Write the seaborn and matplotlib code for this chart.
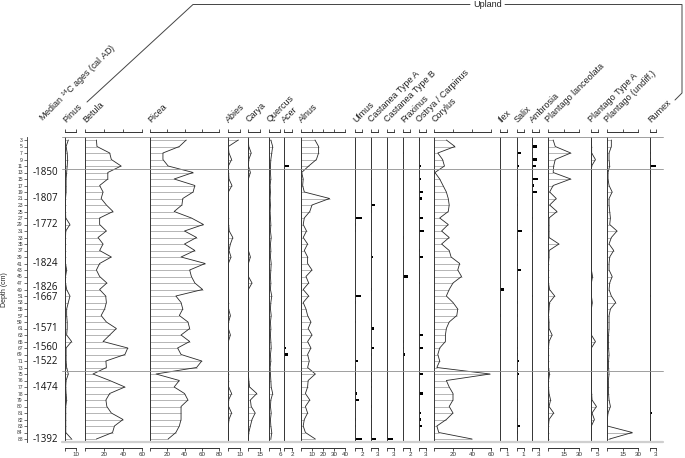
import numpy as np
import matplotlib
matplotlib.use('Agg')
import matplotlib.pyplot as plt
from matplotlib.lines import Line2D
import seaborn as sns

sns.set_theme(style='white')
plt.rcParams['font.family'] = ['Liberation Sans', 'DejaVu Sans']
plt.rcParams['mathtext.default'] = 'regular'

# ------------------------------------------------------------
# data
# ------------------------------------------------------------
DEPTHS = [3, 5, 7, 9, 11, 13, 15, 17, 19, 21, 23, 25, 27, 29, 31, 33, 35, 37, 39, 41,
          43, 45, 47, 49, 51, 53, 55, 57, 59, 61, 63, 65, 67, 69, 71, 73, 75,
          76, 77, 78, 79, 80, 81, 82, 83, 84, 88]

AGE_DEPTHS = [13, 21, 29, 41, 49, 51, 61, 67, 71, 77, 88]
AGES = ['-1850', '-1807', '-1772', '-1824', '-1826', '-1667', '-1571', '-1560',
        '-1522', '-1474', '-1392']

PINUS = [3, 1, 2, 2.4, 2, 1.5, 1, 1, 1, 0.5, 0.5, 0.5, 0.7, 4.5, 0.7, 0.5, 0.5, 0.5, 0.5, 0.5,
         1.5, 0.5, 0.5, 1.5, 4.5, 3, 1.5, 1.5, 2, 2, 1.5, 6, 1, 1, 1, 1.5, 3,
         1, 0.7, 1, 1.5, 0.7, 0.7, 0.7, 0.7, 0.7, 6]
BETULA = [12, 12.6, 26, 27.7, 38, 24, 24, 15.4, 19, 17, 22.5, 29.5, 15.4, 15.4, 22.5, 13.7, 19, 15.4, 27.7, 15.4,
          12, 15.4, 23, 15.4, 21.8, 22.5, 20.7, 17, 22.5, 33, 26, 19, 45, 42, 22, 22.5, 8.4,
          26, 42, 26, 22, 23, 27.7, 40, 31, 29, 12]
PICEA = [42, 34, 15, 15, 21, 50, 28, 52, 50, 38, 37, 28, 48, 62, 40, 54, 40, 52, 36, 64,
         46, 48, 52, 61, 30, 36, 38, 34, 44, 46, 36, 46, 32, 36, 60, 54, 7,
         34, 28, 40, 44, 36, 36, 36, 34, 30, 21]
ABIES = [8.6, 0.3, 0.8, 3, 0.3, 0.5, 0.8, 3.3, 0.3, 0.3, 0.3, 0.3, 0.5, 0.5, 1, 4, 2, 0.8, 2.5, 0.3,
         0.3, 0.3, 0.3, 0.3, 0.3, 0.5, 0.5, 2, 0.5, 0.3, 2, 0.3, 0.3, 0.3, 0.3, 0.3, 0.5,
         0.5, 0.5, 3, 0.5, 0.5, 3, 0.8, 0.3, 0.3, 0.3]
CARYA = [0.3, 1, 4, 1, 0.5, 3, 0.5, 0.5, 0.5, 0.3, 0.3, 0.3, 0.3, 0.3, 0.3, 0.5, 0.5, 0.5, 3, 0.5,
         0.5, 0.5, 5, 0.5, 0.3, 0.3, 0.3, 0.3, 0.3, 0.3, 0.3, 0.3, 0.3, 0.3, 0.3, 0.5, 0.5,
         1, 2, 11, 3, 4, 9, 5, 3, 1, 0.5]
QUERCUS = [1, 2, 1.5, 1, 0.8, 0.8, 1, 0.6, 0.8, 0.6, 0.8, 0.6, 0.8, 1, 0.8, 1.2, 0.8, 1, 0.8, 1.2,
           1, 0.8, 1, 0.8, 1.5, 1, 0.8, 1.2, 0.8, 1, 0.8, 1, 1.2, 0.8, 1, 0.6, 0.8,
           1, 1.2, 2, 1, 0.8, 1.2, 0.8, 1, 1.5, 1]
ALNUS = [12.7, 16, 16, 14, 7, 0.6, 2, 1.5, 3, 26, 10, 8, 3, 2, 5, 2, 6, 3, 6, 6,
         10, 4.5, 7, 2, 7, 2, 4.5, 6, 9, 6.5, 10, 6, 9, 6, 7.5, 6, 13,
         6.5, 6, 4, 8, 4, 6, 3, 2, 4, 13]
CORYLUS = [13, 22, 4, 9, 11, 1, 6, 9.5, 13, 15, 16, 15, 6, 15, 8, 16, 8, 16, 18, 27,
           25, 29, 20, 16, 13, 20, 25, 24, 16, 13, 12, 12, 6, 4, 6, 3, 59,
           13, 16, 20, 20, 16, 20, 13, 3, 5, 40]
P_LANCEOLATA = [5, 7, 22, 7, 5.5, 5, 22, 5, 1.6, 8, 1.6, 8.7, 1, 1, 1, 1, 10.6, 1, 1, 0.5,
                0.5, 0.5, 0.5, 1.5, 6.5, 1.5, 1, 0.5, 1, 1, 4, 1, 0.5, 0.5, 0.5, 0.5, 1.5,
                0.5, 0.5, 1, 2.5, 1, 5.5, 1, 0.5, 0.5, 0.5]
P_TYPE_A = [0.3, 0.5, 0.5, 3.4, 0.5, 0.3, 0.3, 0.3, 0.3, 0.3, 0.3, 0.3, 0.3, 0.3, 0.3, 0.3, 0.3, 0.3, 0.3, 0.3,
            0.3, 1.2, 0.3, 0.3, 0.3, 1, 0.3, 0.3, 0.3, 0.3, 0.3, 3.4, 0.3, 0.3, 0.3, 0.3, 0.3,
            0.3, 0.3, 0.5, 0.8, 4.2, 0.8, 2.6, 0.3, 0.3, 0.3]
P_UNDIFF = [4.2, 4.2, 2, 2, 2.6, 1, 1, 2, 5, 2, 2, 2.6, 3.3, 2.6, 9.7, 4.2, 2, 6.5, 2.6, 2,
            2, 5, 2.6, 2, 4.2, 8.4, 3.3, 2, 2, 2, 1.5, 1.5, 1.5, 2, 1.5, 1.5, 2,
            1.3, 1.5, 1.5, 2, 3.3, 1, 0.3, 0.3, 24.5, 2.5]

# rare taxa: depth (cm) -> %
ACER = {11: 1.3, 67: 0.4, 69: 0.9}
ULMUS = {27: 2.0, 29: 0.4, 31: 0.4, 51: 1.8, 53: 0.4, 59: 0.4, 71: 0.8, 73: 0.4, 75: 0.4,
         78: 0.7, 79: 1.0, 82: 0.4, 83: 0.4, 88: 2.0}
CASTANEA_A = {15: 0.5, 23: 1.6, 25: 0.5, 31: 0.5, 39: 1.0, 49: 0.5, 61: 1.3, 65: 0.5, 67: 1.3,
              69: 0.5, 75: 0.5, 76: 0.5, 77: 0.5, 80: 0.5, 88: 2.3}
CASTANEA_B = {88: 2.7}
FRAXINUS = {7: 0.4, 33: 0.4, 45: 1.3, 65: 0.4, 67: 0.4, 69: 0.6, 75: 0.4}
OSTRYA = {3: 0.5, 7: 0.5, 11: 1.0, 13: 0.5, 15: 0.8, 19: 1.6, 21: 1.4, 27: 1.6, 31: 2.0, 37: 0.5,
          39: 1.8, 47: 0.5, 63: 1.5, 67: 1.5, 75: 1.8, 78: 1.5, 81: 1.0, 82: 1.0, 83: 1.2}
ILEX = {49: 0.6, 57: 0.2, 63: 0.2}
SALIX = {7: 0.6, 11: 0.4, 21: 0.2, 23: 0.2, 31: 0.75, 33: 0.2, 43: 0.6, 53: 0.2, 57: 0.2, 61: 0.2,
         67: 0.2, 69: 0.2, 71: 0.4, 75: 0.4, 79: 0.2, 82: 0.2, 83: 0.5, 84: 0.2}
AMBROSIA = {3: 0.5, 5: 2.3, 7: 0.5, 9: 2.0, 11: 1.6, 15: 2.7, 17: 1.0, 19: 2.0, 21: 0.5,
            27: 0.5, 31: 0.5, 51: 0.5}
RUMEX = {7: 0.5, 9: 0.5, 11: 3.0, 13: 0.5, 51: 0.5, 81: 1.2, 88: 0.5}

TAXA = ['Pinus', 'Betula', 'Picea', 'Abies', 'Carya', 'Quercus', 'Acer', 'Alnus',
        'Ulmus', 'Castanea Type A', 'Castanea Type B', 'Fraxinus', 'Ostrya / Carpinus',
        'Corylus', 'Ilex', 'Salix', 'Ambrosia', 'Plantago lanceolata',
        'Plantago Type A', 'Plantago (undiff.)', 'Rumex']
SERIES = [PINUS, BETULA, PICEA, ABIES, CARYA, QUERCUS, ACER, ALNUS, ULMUS, CASTANEA_A,
          CASTANEA_B, FRAXINUS, OSTRYA, CORYLUS, ILEX, SALIX, AMBROSIA, P_LANCEOLATA,
          P_TYPE_A, P_UNDIFF, RUMEX]

# ------------------------------------------------------------
# layout (pixels of the 685x458 picture)
# ------------------------------------------------------------
W, H = 685, 458
Y_TOP, Y_BOT = 136.75, 442.25
# left, width, x max, ticks
LAYOUT = [
    (65, 11, 10, [0, 10]),
    (85, 57, 60, [0, 20, 40, 60]),
    (150, 69, 80, [0, 20, 40, 60, 80]),
    (228, 12, 10, [0, 10]),
    (248, 12, 15, [0, 15]),
    (269, 11, 6, [0, 6]),
    (284, 8, 2, [0, 2]),
    (301, 44, 40, [0, 10, 20, 30, 40]),
    (355, 7, 2, [0, 2]),
    (371, 7, 3, [0, 3]),
    (387, 7, 3, [0, 3]),
    (403, 7, 2, [0, 2]),
    (419, 7, 3, [0, 3]),
    (434, 57, 60, [0, 20, 40, 60]),
    (500, 7, 1, [0, 1]),
    (516.5, 7, 1, [0, 1]),
    (532, 7, 3, [0, 3]),
    (548, 31, 30, [0, 15, 30]),
    (591, 6.5, 5, [0, 5]),
    (607, 31, 30, [0, 15, 30]),
    (650, 6, 3, [0, 3]),
]

pos = np.arange(len(DEPTHS))
fig = plt.figure(figsize=(W / 100, H / 100), dpi=100)
fig.patch.set_facecolor('white')


def fx(px):
    return px / W


def fy(py):
    return 1 - py / H


def fig_line(xs, ys, **kw):
    fig.add_artist(Line2D([fx(x) for x in xs], [fy(y) for y in ys],
                          transform=fig.transFigure, **kw))


ax_h = (Y_BOT - Y_TOP) / H
for name, vals, (left, width, xmax, ticks) in zip(TAXA, SERIES, LAYOUT):
    ax = fig.add_axes([fx(left), fy(Y_BOT), width / W, ax_h])
    ax.patch.set_visible(False)
    if isinstance(vals, dict):
        v = np.array([vals.get(d, 0) for d in DEPTHS], float)
        m = v > 0
        ax.barh(pos[m], v[m], height=0.42, color='black', lw=0)
    else:
        v = np.asarray(vals, float)
        ax.hlines(pos, 0, v, color='#8c8c8c', lw=0.45)
        sns.lineplot(x=v, y=pos, orient='y', sort=False, estimator=None,
                     color='#2a2a2a', lw=0.6, ax=ax)
    ax.set_xlim(0, xmax)
    ax.set_ylim(len(DEPTHS) - 0.5, -0.5)
    ax.set_xlabel('')
    ax.set_ylabel('')
    ax.set_yticks([])
    ax.set_xticks(ticks)
    ax.set_xticklabels(['' if t == 0 else str(t) for t in ticks])
    ax.tick_params(axis='x', top=True, bottom=True, labeltop=False, labelbottom=True,
                   direction='out', length=2, width=0.6, labelsize=4.5, pad=1,
                   colors='#333333')
    ax.spines['right'].set_visible(False)
    ax.spines['top'].set_position(('outward', 3.6))
    ax.spines['bottom'].set_position(('outward', 4.2))
    for s in ['left', 'top', 'bottom']:
        ax.spines[s].set_color('#333333')
        ax.spines[s].set_linewidth(0.7)
    fig.text(fx(left + 1), fy(123), name, rotation=45, rotation_mode='anchor',
             ha='left', va='baseline', fontsize=6.5, color='#222222')

# depth axis with the radiocarbon ages
ax_d = fig.add_axes([fx(27), fy(Y_BOT), 33 / W, ax_h])
ax_d.patch.set_visible(False)
ax_d.set_xlim(0, 33)
ax_d.set_ylim(len(DEPTHS) - 0.5, -0.5)
ax_d.set_xticks([])
ax_d.set_yticks(pos)
ax_d.set_yticklabels([str(d) for d in DEPTHS])
ax_d.tick_params(axis='y', left=True, direction='out', length=2.2, width=0.5,
                 labelsize=3.6, pad=0.8, colors='#333333')
for s in ['top', 'right', 'bottom']:
    ax_d.spines[s].set_visible(False)
ax_d.spines['left'].set_color('#333333')
ax_d.spines['left'].set_linewidth(0.6)
# two neighbouring ages (49 and 51 cm) are nudged apart so they do not collide
nudge = {49: -0.3, 51: 0.3}
for d, age in zip(AGE_DEPTHS, AGES):
    ax_d.text(5.5, DEPTHS.index(d) + nudge.get(d, 0), age, ha='left', va='center',
              fontsize=7.0, family=['Open Sans', 'DejaVu Sans'], color='#111111')

fig.text(fx(5), fy(290), 'Depth (cm)', rotation=90, ha='center', va='center',
         fontsize=5, color='#222222')
fig.text(fx(43), fy(122), r'Median $^{14}$C ages (cal AD)', rotation=45,
         rotation_mode='anchor', ha='left', va='baseline', fontsize=6.5, color='#222222')

# horizontal reference lines across the panels
for y in [Y_TOP, 169.25, 370.75]:
    fig_line([62, 663], [y, y], color='#8f8f8f', lw=0.6, zorder=5)
fig_line([62, 663], [Y_BOT, Y_BOT], color='#cfcfcf', lw=1.6, zorder=5)

# "Upland" group bracket
fig_line([87, 193, 470], [102, 4.5, 4.5], color='#444444', lw=0.7)
fig_line([505, 682, 682, 675], [4.5, 4.5, 93, 100], color='#444444', lw=0.7)
fig.text(fx(487.5), fy(4.8), 'Upland', ha='center', va='center', fontsize=6.5,
         color='#222222')

fig.savefig('out.png', dpi=100, facecolor='white')
